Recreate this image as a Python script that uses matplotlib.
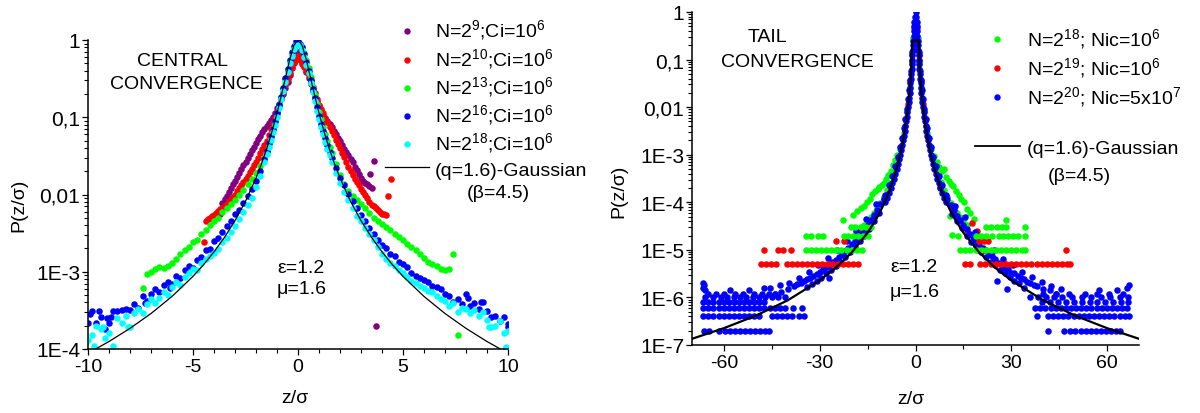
import matplotlib
matplotlib.use("Agg")
import matplotlib.pyplot as plt
from matplotlib.lines import Line2D
from matplotlib.ticker import LogLocator, NullFormatter, MultipleLocator

plt.rcParams['font.family'] = ['Liberation Sans', 'DejaVu Sans']
plt.rcParams['mathtext.fontset'] = 'custom'
plt.rcParams['mathtext.rm'] = 'Liberation Sans'
plt.rcParams['mathtext.it'] = 'Liberation Sans:italic'
plt.rcParams['mathtext.bf'] = 'Liberation Sans:bold'

# ---------------- left panel : central convergence ----------------
z_grid = [-10.0, -9.8, -9.6, -9.4, -9.2, -9.0, -8.8, -8.6, -8.4, -8.2,
          -8.0, -7.8, -7.6, -7.4, -7.2, -7.0, -6.8, -6.6, -6.4, -6.2,
          -6.0, -5.8, -5.6, -5.4, -5.2, -5.0, -4.8, -4.6, -4.4, -4.2,
          -4.0, -3.8, -3.6, -3.4, -3.2, -3.0, -2.8, -2.6, -2.4, -2.2,
          -2.0, -1.8, -1.6,
          -1.5, -1.4, -1.3, -1.2, -1.1, -1.0, -0.9, -0.8, -0.7, -0.6,
          -0.5, -0.4, -0.3, -0.2, -0.1, 0.0, 0.1, 0.2, 0.3, 0.4, 0.5,
          0.6, 0.7, 0.8, 0.9, 1.0, 1.1, 1.2, 1.3, 1.4, 1.5,
          1.6, 1.8, 2.0, 2.2, 2.4, 2.6, 2.8, 3.0, 3.2, 3.4,
          3.6, 3.8, 4.0, 4.2, 4.4, 4.6, 4.8, 5.0, 5.2, 5.4,
          5.6, 5.8, 6.0, 6.2, 6.4, 6.6, 6.8, 7.0, 7.2, 7.4,
          7.6, 7.8, 8.0, 8.2, 8.4, 8.6, 8.8, 9.0, 9.2, 9.4,
          9.6, 9.8, 10.0]

p_n16 = [2.2e-4, 3.1e-4, 2.2e-4, 2.6e-4, 1.8e-4, 2.2e-4, 3.1e-4, 3.1e-4, 3.2e-4, 3.3e-4,
         3.2e-4, 3.8e-4, 3.4e-4, 4.9e-4, 4.2e-4, 5.2e-4, 6.0e-4, 5.4e-4, 6.8e-4, 7.4e-4,
         7.0e-4, 8.9e-4, 8.3e-4, 1.05e-3, 1.18e-3, 1.12e-3, 1.4e-3, 1.55e-3, 1.9e-3, 1.95e-3,
         2.5e-3, 2.7e-3, 3.3e-3, 3.9e-3, 4.6e-3, 5.6e-3, 6.3e-3, 7.8e-3, 9.6e-3, 0.0118,
         0.0150, 0.020, 0.029,
         0.037, 0.046, 0.057, 0.071, 0.089, 0.112, 0.145, 0.185, 0.24, 0.32,
         0.42, 0.55, 0.69, 0.84, 0.98, 0.97, 0.90, 0.80, 0.66, 0.52, 0.40,
         0.30, 0.23, 0.175, 0.135, 0.105, 0.083, 0.066, 0.054, 0.044, 0.036,
         0.030, 0.022, 0.0165, 0.0132, 0.0102, 0.0082, 0.0066, 0.0055, 0.0046, 0.0037,
         0.0031, 0.0026, 0.0022, 0.0020, 0.0017, 0.0016, 0.00135, 0.00125, 0.00115, 9.5e-4,
         8.9e-4, 8.3e-4, 7.8e-4, 7.4e-4, 6.6e-4, 6.3e-4, 6.0e-4, 5.2e-4, 4.8e-4, 4.1e-4,
         4.4e-4, 3.8e-4, 5.1e-4, 3.6e-4, 3.9e-4, 3.3e-4, 4.1e-4, 3.1e-4, 2.6e-4, 2.7e-4,
         2.3e-4, 2.6e-4, 2.1e-4]
z_n16_extra = [-9.9, -9.5, -9.1, -8.9, -7.3, -6.1, 8.1, 8.7, 9.9, 10.0]
p_n16_extra = [2.8e-4, 3.1e-4, 2.5e-4, 2.6e-4, 3.9e-4, 6.2e-4, 4.6e-4, 4.0e-4, 1.0e-4, 1.9e-4]

p_n18 = [1.3e-4, 1.5e-4, 2.0e-4, 1.8e-4, 1.4e-4, 1.6e-4, 1.1e-4, 2.5e-4, 2.2e-4, 2.7e-4,
         1.9e-4, 2.9e-4, 3.3e-4, 2.9e-4, 3.8e-4, 4.5e-4, 3.9e-4, 4.6e-4, 5.5e-4, 5.0e-4,
         6.3e-4, 7.4e-4, 6.8e-4, 8.6e-4, 9.5e-4, 1.1e-3, 1.05e-3, 1.3e-3, 1.45e-3, 1.6e-3,
         1.75e-3, 1.95e-3, 2.4e-3, 2.7e-3, 3.3e-3, 3.9e-3, 4.8e-3, 5.9e-3, 7.3e-3, 9.0e-3,
         0.0125, 0.0175, 0.026,
         0.033, 0.041, 0.051, 0.064, 0.080, 0.100, 0.130, 0.170, 0.22, 0.29,
         0.38, 0.50, 0.63, 0.76, 0.86, 0.90, 0.86, 0.75, 0.61, 0.48, 0.37,
         0.28, 0.21, 0.16, 0.122, 0.095, 0.075, 0.060, 0.048, 0.039, 0.032,
         0.026, 0.019, 0.0140, 0.0108, 0.0085, 0.0066, 0.0053, 0.0045, 0.0037, 0.0031,
         0.0026, 0.0021, 0.0017, 0.00145, 0.0013, 0.00118, 0.00105, 9.6e-4, 8.5e-4, 7.6e-4,
         7.2e-4, 6.6e-4, 6.2e-4, 5.6e-4, 5.5e-4, 4.9e-4, 4.5e-4, 4.2e-4, 3.6e-4, 3.9e-4,
         3.0e-4, 3.4e-4, 3.3e-4, 2.9e-4, 3.2e-4, 2.7e-4, 3.0e-4, 2.4e-4, 1.9e-4, 2.0e-4,
         2.3e-4, 1.6e-4, 1.7e-4]
z_n18_extra = [-9.7, -9.3, -8.1, 9.9, 9.1]
p_n18_extra = [1.1e-4, 1.9e-4, 1.9e-4, 1.05e-4, 1.9e-4]

z_n13 = [-7.4, -7.2, -7.0, -6.8, -6.6, -6.4, -6.2, -6.0, -5.8, -5.6,
         -5.4, -5.2, -5.0, -4.8, -4.6, -4.4, -4.2, -4.0, -3.8, -3.6,
         -3.4, -3.2, -3.0, -2.8, -2.6, -2.4, -2.2, -2.0, -1.8, -1.6,
         -1.5, -1.4, -1.3, -1.2, -1.1, -1.0, -0.9, -0.8, -0.7, -0.6,
         -0.5, -0.4, -0.3, -0.2, -0.1, 0.0, 0.1, 0.2, 0.3, 0.4, 0.5,
         0.6, 0.7, 0.8, 0.9, 1.0, 1.1, 1.2, 1.3, 1.4, 1.5,
         1.6, 1.8, 2.0, 2.2, 2.4, 2.6, 2.8, 3.0, 3.2, 3.4,
         3.6, 3.8, 4.0, 4.2, 4.4, 4.6, 4.8, 5.0, 5.2, 5.4,
         5.6, 5.8, 6.0, 6.2, 6.4, 6.6, 6.8, 7.0, 7.2, 7.4, 7.6]
p_n13 = [6.2e-4, 9.3e-4, 1.0e-3, 1.1e-3, 1.15e-3, 1.12e-3, 1.2e-3, 1.3e-3, 1.45e-3, 1.7e-3,
         1.9e-3, 2.1e-3, 2.4e-3, 2.6e-3, 3.1e-3, 3.5e-3, 4.0e-3, 4.5e-3, 5.0e-3, 5.9e-3,
         6.6e-3, 7.6e-3, 8.6e-3, 0.0100, 0.0115, 0.0135, 0.0160, 0.0190, 0.0235, 0.030,
         0.036, 0.045, 0.056, 0.070, 0.088, 0.111, 0.143, 0.185, 0.24, 0.31,
         0.41, 0.53, 0.66, 0.79, 0.88, 0.92, 0.88, 0.80, 0.68, 0.55, 0.43,
         0.33, 0.25, 0.195, 0.15, 0.118, 0.094, 0.075, 0.061, 0.050, 0.041,
         0.034, 0.025, 0.018, 0.0135, 0.0112, 0.0096, 0.0085, 0.0076, 0.0066, 0.0058,
         0.0050, 0.0045, 0.0041, 0.0038, 0.0035, 0.0031, 0.0028, 0.0026, 0.0023, 0.0021,
         0.0019, 0.0017, 0.0015, 0.00135, 0.00125, 0.00118, 0.0011, 0.00105, 0.0011, 0.0017, 1.5e-4]

z_n10 = [-4.5, -4.4, -4.3, -4.2, -4.1, -4.0, -3.9, -3.8, -3.7, -3.6, -3.5,
         -3.4, -3.3, -3.2, -3.1, -3.0, -2.9, -2.8, -2.7, -2.6, -2.5,
         -2.4, -2.3, -2.2, -2.1, -2.0, -1.9, -1.8, -1.7, -1.6, -1.5,
         -1.4, -1.3, -1.2, -1.1, -1.0, -0.9, -0.8, -0.7, -0.6, -0.5,
         -0.4, -0.3, -0.2, -0.1, 0.0, 0.1, 0.2, 0.3, 0.4, 0.5,
         0.6, 0.7, 0.8, 0.9, 1.0, 1.1, 1.2, 1.3, 1.4, 1.5,
         1.6, 1.7, 1.8, 1.9, 2.0, 2.1, 2.2, 2.3, 2.4, 2.5,
         2.6, 2.7, 2.8, 2.9, 3.0, 3.1, 3.2, 3.3, 3.4, 3.5,
         3.6, 3.7, 3.8, 3.9, 4.0, 4.1, 4.2, 4.3, 4.43]
p_n10 = [0.0024, 0.00457, 0.00479, 0.00501, 0.00525, 0.0055, 0.00578, 0.00608, 0.0064, 0.00673, 0.00708,
         0.00759, 0.00813, 0.0087, 0.0093, 0.0100, 0.011, 0.012, 0.0132, 0.0145, 0.0158,
         0.0175, 0.0194, 0.0215, 0.0238, 0.0263, 0.030, 0.034, 0.0387, 0.044, 0.050,
         0.0594, 0.0705, 0.0836, 0.099, 0.117, 0.143, 0.175, 0.213, 0.26, 0.316,
         0.374, 0.444, 0.525, 0.57, 0.62, 0.552, 0.494, 0.443, 0.396, 0.355,
         0.296, 0.248, 0.207, 0.173, 0.145, 0.127, 0.112, 0.098, 0.0863, 0.0759,
         0.0667, 0.0586, 0.0515, 0.0453, 0.0398, 0.0347, 0.0302, 0.0263, 0.0229, 0.020,
         0.0179, 0.0161, 0.0145, 0.0131, 0.0117, 0.0107, 0.0098, 0.0089, 0.0081, 0.0074,
         0.0070, 0.0066, 0.0063, 0.0059, 0.0056, 0.0056, 0.0055, 0.0095, 0.016]

z_n9 = [-3.7, -3.6, -3.5, -3.4, -3.3, -3.2, -3.1, -3.0, -2.9, -2.8, -2.7,
        -2.6, -2.5, -2.4, -2.3, -2.2, -2.1, -2.0, -1.9, -1.8, -1.7,
        -1.6, -1.5, -1.4, -1.3, -1.2, -1.1, -1.0, -0.9, -0.8, -0.7,
        -0.6, -0.5, -0.4, -0.3, -0.2, -0.1, 0.0, 0.1, 0.2, 0.3,
        0.4, 0.5, 0.6, 0.7, 0.8, 0.9, 1.0, 1.1, 1.2, 1.3,
        1.4, 1.5, 1.6, 1.7, 1.8, 1.9, 2.0, 2.1, 2.2, 2.3,
        2.4, 2.5, 2.6, 2.7, 2.8, 2.9, 3.0, 3.1, 3.2, 3.3,
        3.4, 3.5, 3.43, 3.62, 3.71]
p_n9 = [0.0056, 0.0078, 0.0087, 0.0097, 0.0108, 0.0121, 0.0135, 0.0150, 0.0168, 0.0189, 0.0212,
        0.0238, 0.0267, 0.030, 0.0335, 0.0374, 0.0417, 0.0466, 0.052, 0.0575, 0.0637,
        0.0705, 0.078, 0.0847, 0.092, 0.100, 0.114, 0.131, 0.149, 0.171, 0.20,
        0.24, 0.29, 0.35, 0.43, 0.50, 0.60, 0.69, 0.60, 0.53, 0.46,
        0.39, 0.32, 0.27, 0.22, 0.185, 0.16, 0.138, 0.121, 0.106, 0.097,
        0.089, 0.082, 0.074, 0.067, 0.060, 0.054, 0.049, 0.044, 0.039, 0.035,
        0.032, 0.029, 0.026, 0.023, 0.021, 0.0185, 0.0165, 0.0150, 0.0140, 0.0135,
        0.0128, 0.0122, 0.0185, 0.027, 2.0e-4]

# (q=1.6)-Gaussian, beta=4.5
zq_l = [-10, -9, -8, -7, -6, -5, -4.5, -4, -3.5, -3, -2.5, -2, -1.75, -1.5, -1.25, -1,
        -0.8, -0.6, -0.4, -0.2, -0.1, 0, 0.1, 0.2, 0.4, 0.6, 0.8,
        1, 1.25, 1.5, 1.75, 2, 2.5, 3, 3.5, 4, 4.5, 5, 6, 7, 8, 9, 10]
pq_l = [8.8e-5, 1.25e-4, 1.85e-4, 2.88e-4, 4.79e-4, 8.72e-4, 1.23e-3, 1.81e-3, 2.79e-3, 4.59e-3,
        8.18e-3, 0.01635, 0.0245, 0.0383, 0.0637, 0.113,
        0.188, 0.322, 0.55, 0.843, 0.93, 0.96, 0.93, 0.843, 0.55, 0.322, 0.188,
        0.113, 0.0637, 0.0383, 0.0245, 0.01635, 8.18e-3, 4.59e-3, 2.79e-3, 1.81e-3, 1.23e-3,
        8.72e-4, 4.79e-4, 2.88e-4, 1.85e-4, 1.25e-4, 8.8e-5]

# ---------------- right panel : tail convergence ----------------
zq_r = [-70, -60, -50, -40, -30, -25, -20, -15, -12, -10, -8, -6, -5, -4, -3, -2.5, -2, -1.5, -1,
        1, 1.5, 2, 2.5, 3, 4, 5, 6, 8, 10, 12, 15, 20, 25, 30, 40, 50, 60, 70]
pq_r = [1.35e-7, 2.26e-7, 4.14e-7, 8.71e-7, 2.28e-6, 4.18e-6, 8.78e-6, 2.29e-5, 4.81e-5, 8.82e-5,
        1.85e-4, 4.79e-4, 8.72e-4, 1.81e-3, 4.59e-3, 8.18e-3, 0.01635, 0.0383, 0.25,
        0.25, 0.0383, 0.01635, 8.18e-3, 4.59e-3, 1.81e-3, 8.72e-4, 4.79e-4, 1.85e-4, 8.82e-5,
        4.81e-5, 2.29e-5, 8.78e-6, 4.18e-6, 2.28e-6, 8.71e-7, 4.14e-7, 2.26e-7, 1.35e-7]

# N=2^20 : core along the peak
z20_core = [-9.63, -8.98, -8.38, -7.82, -7.29, -6.80, -6.34, -5.92, -5.52, -5.14,
            -4.80, -4.47, -4.17, -3.88, -3.62, -3.37, -3.14, -2.92, -2.71, -2.52,
            -2.35, -2.18, -2.02, -1.87, -1.73, -1.60, -1.48, -1.36, -1.25, -1.15,
            -1.05, -0.96, -0.87, -0.78, -0.69, -0.61, -0.52, -0.44, -0.34, -0.23,
            0.0,
            0.23, 0.34, 0.44, 0.52, 0.61, 0.69, 0.78, 0.87, 0.96, 1.05,
            1.15, 1.25, 1.36, 1.48, 1.60, 1.73, 1.87, 2.02, 2.18, 2.35,
            2.52, 2.71, 2.92, 3.14, 3.37, 3.62, 3.88, 4.17, 4.47, 4.80,
            5.14, 5.52, 5.92, 6.34, 6.80, 7.29, 7.82, 8.38, 8.98, 9.63]
p20_core = [1.0e-4, 1.26e-4, 1.58e-4, 2.0e-4, 2.51e-4, 3.16e-4, 3.98e-4, 5.01e-4, 6.31e-4, 7.94e-4,
            1.0e-3, 1.26e-3, 1.58e-3, 2.0e-3, 2.51e-3, 3.16e-3, 3.98e-3, 5.01e-3, 6.31e-3, 7.94e-3,
            0.0100, 0.0126, 0.0158, 0.0200, 0.0251, 0.0316, 0.0398, 0.0501, 0.0631, 0.0794,
            0.100, 0.126, 0.158, 0.200, 0.251, 0.316, 0.398, 0.501, 0.631, 0.794,
            1.0,
            0.794, 0.631, 0.501, 0.398, 0.316, 0.251, 0.200, 0.158, 0.126, 0.100,
            0.0794, 0.0631, 0.0501, 0.0398, 0.0316, 0.0251, 0.0200, 0.0158, 0.0126, 0.0100,
            7.94e-3, 6.31e-3, 5.01e-3, 3.98e-3, 3.16e-3, 2.51e-3, 2.0e-3, 1.58e-3, 1.26e-3, 1.0e-3,
            7.94e-4, 6.31e-4, 5.01e-4, 3.98e-4, 3.16e-4, 2.51e-4, 2.0e-4, 1.58e-4, 1.26e-4, 1.0e-4]
# N=2^20 : points just outside the core
z20_outer = [-9.63, -8.38, -7.29, -6.34, -5.52, -4.80, -4.17, -3.62, -3.14, -2.71,
             -2.35, -2.02, -1.73, -1.48, -1.25, -1.05,
             1.05, 1.25, 1.48, 1.73, 2.02, 2.35, 2.71, 3.14, 3.62, 4.17,
             4.80, 5.52, 6.34, 7.29, 8.38, 9.63]
p20_outer = [1.45e-4, 2.29e-4, 3.64e-4, 5.77e-4, 9.15e-4, 1.45e-3, 2.29e-3, 3.64e-3, 5.77e-3,
             9.15e-3, 0.0145, 0.0229, 0.0364, 0.0577, 0.0915, 0.145,
             0.145, 0.0915, 0.0577, 0.0364, 0.0229, 0.0145, 9.15e-3, 5.77e-3, 3.64e-3,
             2.29e-3, 1.45e-3, 9.15e-4, 5.77e-4, 3.64e-4, 2.29e-4, 1.45e-4]

# N=2^20 : tail band above the curve
z20_band = [-10, -11, -12, -13, -14, -15, -16, -17, -18, -19, -20, -21, -22, -23, -24, -25,
            -26, -27, -28, -29, -30, -31, -32, -33, -34, -35, -36, -37, -38, -40, -42, -44,
            -11.5, -13, -14.5, -16, -17.5, -19, -20.5, -22, -23.5, -25, -26.5, -28, -29.5,
            -31, -32.5, -34,
            -12.5, -15.5, -18.5, -21.5, -24.5, -27.5, -30.5, -33.5, -36.5, -39.5, -42.5, -45.5,
            10, 11, 12, 13, 14, 15, 16, 17, 18, 19, 20, 21, 22, 23, 24, 25,
            26, 27, 28, 29, 30, 31, 32, 33, 34, 35, 36, 37, 38, 40, 42, 44,
            11.5, 13, 14.5, 16, 17.5, 19, 20.5, 22, 23.5, 25, 26.5, 28, 29.5, 31, 32.5, 34,
            12.5, 15.5, 18.5, 21.5, 24.5, 27.5, 30.5, 33.5, 36.5, 39.5, 42.5, 45.5,
            28.7, 25.5, -27.0]
p20_band = [1.2e-4, 9.0e-5, 6.8e-5, 5.3e-5, 4.2e-5, 3.4e-5, 2.7e-5, 2.2e-5, 1.8e-5, 1.5e-5,
            1.3e-5, 1.1e-5, 9.5e-6, 8.2e-6, 7.2e-6, 6.2e-6, 5.5e-6, 4.8e-6, 4.3e-6, 3.9e-6,
            3.4e-6, 3.1e-6, 2.8e-6, 2.6e-6, 2.4e-6, 2.2e-6, 2.0e-6, 1.9e-6, 1.7e-6, 1.5e-6,
            1.3e-6, 1.2e-6,
            6.0e-5, 4.1e-5, 2.8e-5, 2.0e-5, 1.5e-5, 1.15e-5, 9.0e-6, 7.0e-6, 5.6e-6, 4.6e-6,
            3.8e-6, 3.2e-6, 2.6e-6, 2.2e-6, 1.9e-6, 1.65e-6,
            9.2e-5, 4.5e-5, 2.5e-5, 1.5e-5, 9.8e-6, 6.7e-6, 4.7e-6, 3.5e-6, 2.6e-6, 2.0e-6,
            1.8e-6, 1.6e-6,
            1.15e-4, 8.8e-5, 7.0e-5, 5.2e-5, 4.3e-5, 3.3e-5, 2.8e-5, 2.2e-5, 1.85e-5, 1.5e-5,
            1.25e-5, 1.1e-5, 9.8e-6, 8.0e-6, 7.4e-6, 6.3e-6, 5.4e-6, 4.9e-6, 4.2e-6, 4.0e-6,
            3.3e-6, 3.2e-6, 2.8e-6, 2.5e-6, 2.4e-6, 2.1e-6, 2.0e-6, 1.8e-6, 1.7e-6, 1.5e-6,
            1.4e-6, 1.2e-6,
            5.8e-5, 4.0e-5, 2.9e-5, 2.0e-5, 1.45e-5, 1.2e-5, 8.8e-6, 7.2e-6, 5.5e-6, 4.7e-6,
            3.7e-6, 3.3e-6, 2.7e-6, 2.2e-6, 2.0e-6, 1.6e-6,
            8.5e-5, 4.8e-5, 2.4e-5, 1.6e-5, 1.0e-5, 6.5e-6, 4.9e-6, 3.4e-6, 2.7e-6, 2.1e-6,
            1.7e-6, 1.5e-6,
            1.5e-6, 2.2e-6, 2.5e-6]

# N=2^20 : quantised far-tail rows (level, z positions)
levels20 = [2e-7, 4e-7, 6e-7, 8e-7, 1e-6, 1.2e-6, 1.4e-6, 1.6e-6, 1.8e-6, 2.0e-6]
rows20 = [
    [-66.2, -64.6, -61.4, -59.8, -58.2, -56.6, -55.0, -53.4, -51.8, -50.2, -48.6, -47.0, -46.0,
     41.5, 46.5, 48.5, 50.1, 51.7, 53.3, 54.9, 56.5, 58.1, 59.7, 61.3, 62.9, 64.0],
    [-66.5, -64.9, -63.3, -61.7, -60.1, -58.5, -56.9, -55.3, -53.7, -52.1, -50.5, -48.9,
     -45.0, -43.4, -41.8, -40.2, -38.6, -36.5, -35.0,
     38.0, 41.5, 43.1, 44.7, 46.3, 47.9, 49.5, 51.1, 52.7, 54.3, 55.9, 57.5, 59.1, 60.7,
     62.3, 63.9, 65.5, 66.8],
    [-66.5, -64.9, -63.3, -61.7, -60.1, -58.5, -56.9, -55.3, -53.7, -52.1, -50.5, -48.9,
     -47.3, -45.7, -44.1, -42.5, -40.9, -38.3, -35.7,
     37.5, 39.1, 40.7, 42.3, 43.9, 45.5, 47.1, 48.7, 50.3, 51.9, 53.5, 55.1, 56.7, 58.3,
     59.9, 61.5, 63.1, 64.7, 66.3],
    [-66.5, -64.9, -63.3, -61.7, -60.1, -58.5, -56.9, -55.3, -53.7, -52.1, -50.5, -48.9, -47.3,
     39.5, 42.0, 44.5, 47.0, 49.5, 52.0, 54.5, 57.0, 59.5, 62.0, 64.5, 66.5],
    [-66.0, -63.5, -61.0, -59.0, -57.0, -55.0, -53.0, -51.0, -49.0, -47.0, -45.0, -43.0, -41.0,
     36.0, 38.5, 41.0, 43.5, 46.0, 49.0, 52.0, 55.0, 58.0, 61.0, 64.0, 66.5],
    [-65.0, -62.5, -60.0, -56.5, -54.0, -50.5, -48.0, -46.0, -44.0,
     40.0, 44.0, 48.0, 53.0, 57.0, 60.5, 65.0],
    [-65.8, -58.0, -52.0, 63.0, 57.5],
    [-66.5, -47.5, 66.3],
    [-66.2, 66.8],
    [-66.5],
]

# N=2^18 (green)
z18 = [-5.0, -5.7, -6.4, -7.1, -7.8, -8.5, -9.2, -9.9, -10.6, -11.3, -11.9, -12.6, -13.5,
       -14.3, -15.2, -16.1, -17.2, -18.2, -19.5,
       -6.0, -7.0, -8.0, -9.0, -10.0, -11.0, -12.0, -13.0, -14.0, -15.0, -16.0, -17.0,
       5.0, 5.8, 6.6, 7.4, 8.2, 8.8, 9.6, 10.4, 11.2, 11.9, 12.8, 13.6, 14.4, 15.2, 16.2,
       17.2, 18.2,
       6.0, 7.0, 8.0, 9.0, 10.0, 11.0, 12.0, 13.0, 14.0, 15.0, 16.0,
       11.5, 10.9, -22.8, 28.4,
       -0.7, -1.2, -1.8, -2.6, -3.6, 0.7, 1.2, 1.8, 2.6, 3.6]
p18 = [1.3e-3, 1.0e-3, 7.8e-4, 6.0e-4, 4.6e-4, 3.7e-4, 3.1e-4, 2.6e-4, 2.3e-4, 2.1e-4,
       1.9e-4, 1.7e-4, 1.5e-4, 1.2e-4, 1.0e-4, 8.5e-5, 7.5e-5, 6.7e-5, 5.5e-5,
       6.7e-4, 4.0e-4, 2.6e-4, 1.8e-4, 1.3e-4, 9.5e-5, 7.5e-5, 6.0e-5, 4.8e-5, 4.0e-5,
       3.4e-5, 3.0e-5,
       1.3e-3, 9.5e-4, 7.2e-4, 5.6e-4, 4.5e-4, 5.0e-4, 3.4e-4, 2.8e-4, 2.4e-4, 2.2e-4,
       1.7e-4, 1.4e-4, 1.2e-4, 1.0e-4, 7.2e-5, 6.0e-5, 4.5e-5,
       6.5e-4, 4.1e-4, 2.7e-4, 1.8e-4, 1.3e-4, 9.5e-5, 7.5e-5, 6.0e-5, 4.8e-5, 4.0e-5, 3.4e-5,
       2.1e-5, 5.2e-5, 4.3e-5, 4.3e-5,
       0.28, 0.082, 0.026, 0.0083, 0.0029, 0.28, 0.082, 0.026, 0.0083, 0.0029]
levels18 = [1e-5, 2e-5, 3e-5]
rows18 = [
    [-34.4, -32.8, -31.2, -29.6, -28.0, -26.4, -24.8, -23.2, -21.6, -20.0, -18.4, -16.8,
     14.0, 15.6, 17.2, 18.8, 20.4, 22.0, 23.6, 25.2, 26.8, 28.4, 30.0, 31.6, 33.2, 34.4],
    [-34.4, -32.8, -30.5, -29.0, -22.5, -21.0, -19.5, -18.0, -16.5, -15.0,
     13.4, 19.0, 20.5, 22.0, 24.0, 26.0, 27.5, 29.0, 30.5, 32.0, 34.4],
    [-20.3, -18.8, -17.2, -15.6, -14.0,
     22.0, 23.6, 25.5, 27.0, 28.5, 34.4],
]

# N=2^19 (red)
z19 = [-0.5, -1.0, -1.6, -2.3, -3.2, -4.4, -6.0, 0.5, 1.0, 1.6, 2.3, 3.2, 4.4, 6.0,
       -8.0, -10.0, -11.6, -13.0, -14.5, -16.0, -17.2,
       7.8, 9.5, 11.0, 12.5, 14.0, 16.0, 17.8, 19.3]
p19 = [0.46, 0.124, 0.035, 0.0117, 0.0041, 0.00146, 5.3e-4,
       0.46, 0.124, 0.035, 0.0117, 0.0041, 0.00146, 5.3e-4,
       2.3e-4, 1.2e-4, 6.6e-5, 5.0e-5, 3.5e-5, 2.5e-5, 2.5e-5,
       2.1e-4, 1.3e-4, 8.0e-5, 5.5e-5, 4.0e-5, 2.5e-5, 3.7e-5, 2.5e-5]
levels19 = [5e-6, 1e-5, 1.5e-5]
rows19 = [
    [-48.4, -46.8, -45.2, -43.6, -40.4, -38.8, -37.2, -35.6, -34.0, -32.4, -30.8, -29.2,
     -27.6, -26.0, -24.4, -22.8, -21.2, -19.6, -18.0,
     15.6, 17.2, 20.3, 21.9, 23.5, 25.1, 26.7, 28.3, 29.9, 31.5, 33.1, 34.7, 36.3, 37.9,
     39.5, 41.1, 42.7, 44.3, 45.9, 47.5, 48.4],
    [-47.3, -43.2, -41.6, -39.0, 19.5, 21.0, 47.2],
    [-25.0, -22.5, 19.8, 21.3, 22.8],
]

labels_left = [r'N=2$^{9}$;Ci=10$^{6}$', r'N=2$^{10}$;Ci=10$^{6}$', r'N=2$^{13}$;Ci=10$^{6}$',
               r'N=2$^{16}$;Ci=10$^{6}$', r'N=2$^{18}$;Ci=10$^{6}$']
colors_left = ['#800080', '#ff0000', '#00ff00', '#0000ff', '#00ffff']
labels_right = [r'N=2$^{18}$; Nic=10$^{6}$', r'N=2$^{19}$; Nic=10$^{6}$',
                r'N=2$^{20}$; Nic=5x10$^{7}$']
colors_right = ['#00ff00', '#ff0000', '#0000ff']


def flatten_rows(levels, rows):
    xs, ys = [], []
    for lev, zz in zip(levels, rows):
        xs += zz
        ys += [lev] * len(zz)
    return xs, ys


W, H = 1200, 414
fig = plt.figure(figsize=(12, 4.14), dpi=100)


def fx(x):
    return x / W


def fy(y):
    return 1 - y / H


MS = 22
ax1 = fig.add_axes([fx(88), fy(350), 420 / W, 309 / H])
ax2 = fig.add_axes([fx(692), fy(346), 447 / W, 333 / H])

# left panel
ax1.scatter(z_n9, p_n9, s=MS, c=colors_left[0], linewidths=0, zorder=2)
ax1.scatter(z_n10, p_n10, s=MS, c=colors_left[1], linewidths=0, zorder=2)
ax1.scatter(z_n13, p_n13, s=MS, c=colors_left[2], linewidths=0, zorder=2)
ax1.scatter(z_grid + z_n16_extra, p_n16 + p_n16_extra, s=MS, c=colors_left[3],
            linewidths=0, zorder=2)
ax1.scatter(z_grid + z_n18_extra, p_n18 + p_n18_extra, s=MS, c=colors_left[4],
            linewidths=0, zorder=2)
ax1.plot(zq_l, pq_l, color='black', lw=0.9, zorder=3)

# right panel
ax2.scatter(z18, p18, s=MS, c=colors_right[0], linewidths=0, zorder=2)
ax2.scatter(z19, p19, s=MS, c=colors_right[1], linewidths=0, zorder=2)
x20, y20 = flatten_rows(levels20, rows20)
ax2.scatter(z20_core + z20_outer + z20_band + x20, p20_core + p20_outer + p20_band + y20,
            s=MS, c=colors_right[2], linewidths=0, zorder=2)
x19, y19 = flatten_rows(levels19, rows19)
ax2.scatter(x19, y19, s=MS, c=colors_right[1], linewidths=0, zorder=2)
x18, y18 = flatten_rows(levels18, rows18)
ax2.scatter(x18, y18, s=MS, c=colors_right[0], linewidths=0, zorder=2)
ax2.plot(zq_r, pq_r, color='black', lw=1.6, zorder=3)

for ax in (ax1, ax2):
    ax.set_yscale('log')
    ax.spines['top'].set_visible(False)
    ax.spines['right'].set_visible(False)
    ax.spines['left'].set_linewidth(1.1)
    ax.spines['bottom'].set_linewidth(1.1)
    ax.yaxis.set_minor_locator(LogLocator(base=10, subs=range(2, 10), numticks=20))
    ax.yaxis.set_minor_formatter(NullFormatter())
    ax.tick_params(which='major', direction='out', length=4.5, width=0.9)
    ax.tick_params(which='minor', direction='out', length=2.6, width=0.8)
    ax.tick_params(axis='y', labelsize=15, pad=1)
    ax.tick_params(axis='x', labelsize=14, pad=2)

ax1.set_xlim(-10, 10)
ax1.set_ylim(1e-4, 1)
ax1.set_xticks([-10, -5, 0, 5, 10])
ax1.set_xticklabels(['-10', '-5', '0', '5', '10'])
ax1.xaxis.set_minor_locator(MultipleLocator(1))
ax1.set_yticks([1e-4, 1e-3, 0.01, 0.1, 1])
ax1.set_yticklabels(['1E-4', '1E-3', '0,01', '0,1', '1'])

ax2.set_xlim(-70, 70)
ax2.set_ylim(1e-7, 1)
ax2.set_xticks([-60, -30, 0, 30, 60])
ax2.set_xticklabels(['-60', '-30', '0', '30', '60'])
ax2.xaxis.set_minor_locator(MultipleLocator(15))
ax2.set_yticks([1e-7, 1e-6, 1e-5, 1e-4, 1e-3, 0.01, 0.1, 1])
ax2.set_yticklabels(['1E-7', '1E-6', '1E-5', '1E-4', '1E-3', '0,01', '0,1', '1'])

FS = 14
# axis labels
fig.text(fx(19), fy(205), 'P(z/σ)', rotation=90, ha='center', va='center', fontsize=FS)
fig.text(fx(619), fy(191), 'P(z/σ)', rotation=90, ha='center', va='center', fontsize=FS)
fig.text(fx(295), fy(403), 'z/σ', ha='center', va='baseline', fontsize=FS)
fig.text(fx(911), fy(404), 'z/σ', ha='center', va='baseline', fontsize=FS)

# panel annotations
fig.text(fx(182), fy(66), 'CENTRAL', ha='center', va='baseline', fontsize=FS)
fig.text(fx(186), fy(89), 'CONVERGENCE', ha='center', va='baseline', fontsize=FS)
fig.text(fx(767), fy(42), 'TAIL', ha='center', va='baseline', fontsize=FS)
fig.text(fx(797), fy(67), 'CONVERGENCE', ha='center', va='baseline', fontsize=FS)
fig.text(fx(277), fy(273), 'ε=1.2', ha='left', va='baseline', fontsize=FS)
fig.text(fx(277), fy(294), 'μ=1.6', ha='left', va='baseline', fontsize=FS)
fig.text(fx(890), fy(272), 'ε=1.2', ha='left', va='baseline', fontsize=FS)
fig.text(fx(890), fy(297), 'μ=1.6', ha='left', va='baseline', fontsize=FS)

# legends drawn by hand
base_left = [37, 66, 94, 122, 150]
for lab, col, b in zip(labels_left, colors_left, base_left):
    fig.add_artist(Line2D([fx(407)], [fy(b - 5)], marker='o', ms=4.6, mew=0,
                          color=col, linestyle='none', transform=fig.transFigure))
    fig.text(fx(435), fy(b), lab, ha='left', va='baseline', fontsize=FS)
fig.add_artist(Line2D([fx(385), fx(429)], [fy(168), fy(168)], color='black', lw=0.9,
                      transform=fig.transFigure))
fig.text(fx(435), fy(176), '(q=1.6)-Gaussian', ha='left', va='baseline', fontsize=FS)
fig.text(fx(467), fy(198), '(β=4.5)', ha='left', va='baseline', fontsize=FS)

base_right = [46, 75, 104]
for lab, col, b in zip(labels_right, colors_right, base_right):
    fig.add_artist(Line2D([fx(997)], [fy(b - 6)], marker='o', ms=4.6, mew=0,
                          color=col, linestyle='none', transform=fig.transFigure))
    fig.text(fx(1027), fy(b), lab, ha='left', va='baseline', fontsize=FS)
fig.add_artist(Line2D([fx(975), fx(1020)], [fy(147), fy(147)], color='black', lw=1.3,
                      transform=fig.transFigure))
fig.text(fx(1027), fy(154), '(q=1.6)-Gaussian', ha='left', va='baseline', fontsize=FS)
fig.text(fx(1048), fy(181), '(β=4.5)', ha='left', va='baseline', fontsize=FS)

fig.savefig('out.png', dpi=100)
